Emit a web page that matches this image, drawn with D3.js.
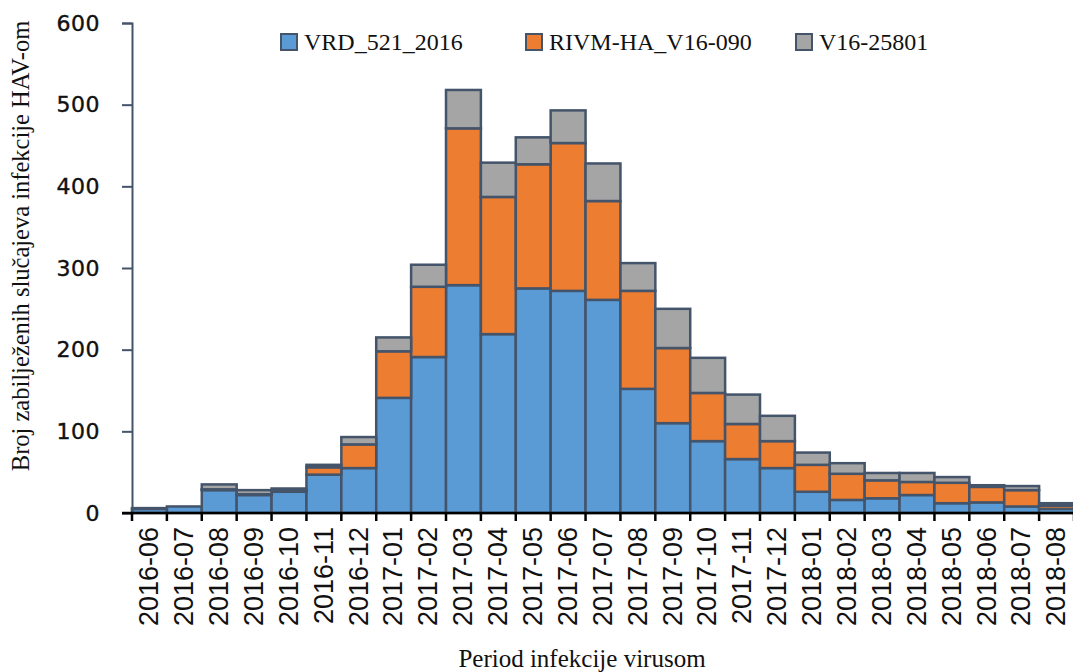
<!DOCTYPE html>
<html>
<head>
<meta charset="utf-8">
<script src="https://cdn.jsdelivr.net/npm/d3@7"></script>
<style>
  body { margin: 0; background: #fff; }
  svg { display: block; }
</style>
</head>
<body>
<svg width="1073" height="672"></svg>
<script>
// months on the x axis
const months = ["2016-06","2016-07","2016-08","2016-09","2016-10","2016-11","2016-12",
  "2017-01","2017-02","2017-03","2017-04","2017-05","2017-06","2017-07","2017-08",
  "2017-09","2017-10","2017-11","2017-12","2018-01","2018-02","2018-03","2018-04",
  "2018-05","2018-06","2018-07","2018-08"];

// cases per strain
const vrd  = [5, 8, 28, 22, 26, 47, 55, 141, 191, 279, 219, 275, 272, 261, 152, 110, 88, 66, 55, 26, 16, 18, 22, 12, 13, 8, 5];
const rivm = [0, 0, 1, 1, 1, 9, 29, 57, 86, 192, 168, 152, 181, 121, 120, 92, 59, 43, 33, 33, 32, 22, 16, 25, 19, 20, 4];
const v16  = [1, 0, 6, 5, 3, 3, 9, 17, 27, 47, 42, 33, 40, 46, 34, 48, 43, 36, 31, 15, 13, 9, 11, 7, 2, 5, 3];

const seriesNames = ["VRD_521_2016", "RIVM-HA_V16-090", "V16-25801"];
const colors = ["#5b9bd5", "#ed7d31", "#a5a5a5"];
const yTicks = [0, 100, 200, 300, 400, 500, 600];

const rows = months.map((m, i) => ({month: m, a: vrd[i], b: rivm[i], c: v16[i]}));
const stacked = d3.stack().keys(["a", "b", "c"])(rows);

const svg = d3.select("svg");
const edge = "#44546a";

const x = d3.scaleBand().domain(months).range([132, 1074]).padding(0);
const y = d3.scaleLinear().domain([0, 600]).range([513, 23]);

// bars
svg.append("g").selectAll("g")
  .data(stacked)
  .join("g")
    .attr("fill", (d, i) => colors[i])
  .selectAll("rect")
  .data(d => d)
  .join("rect")
    .attr("x", d => x(d.data.month))
    .attr("width", x.bandwidth())
    .attr("y", d => y(d[1]))
    .attr("height", d => y(d[0]) - y(d[1]))
    .attr("stroke", edge)
    .attr("stroke-width", 2.5);

// y axis
const yAxis = svg.append("g")
  .attr("transform", "translate(132,0)")
  .call(d3.axisLeft(y).tickValues(yTicks).tickSize(10).tickPadding(22));
yAxis.select(".domain").attr("stroke", edge).attr("stroke-width", 2);
yAxis.selectAll(".tick line").attr("stroke", edge).attr("stroke-width", 2);
yAxis.selectAll("text")
  .attr("font-family", "DejaVu Sans")
  .attr("font-size", 22)
  .attr("letter-spacing", 0.5)
  .attr("fill", "#111")
  .attr("stroke", "#111")
  .attr("stroke-width", 0.4);

// x axis
const xAxis = svg.append("g")
  .attr("transform", "translate(0,513)")
  .call(d3.axisBottom(x).tickSize(0).tickPadding(0));
xAxis.select(".domain").remove();
xAxis.selectAll("text")
  .attr("font-family", "Liberation Sans")
  .attr("font-size", 27)
  .attr("fill", "#111")
  .attr("text-anchor", "end")
  .attr("transform", "rotate(-90)")
  .attr("x", -14)
  .attr("y", -1)
  .attr("dy", "0.36em");

svg.append("line")
  .attr("x1", 122).attr("x2", 1073)
  .attr("y1", 513).attr("y2", 513)
  .attr("stroke", "#000").attr("stroke-width", 2.5);

const edges = months.map(m => x(m)).concat([x.range()[1]]);
svg.append("g").selectAll("line")
  .data(edges)
  .join("line")
    .attr("x1", d => d).attr("x2", d => d)
    .attr("y1", 513).attr("y2", 521)
    .attr("stroke", "#000").attr("stroke-width", 2.5);

// axis titles
svg.append("text")
  .attr("x", 582).attr("y", 667)
  .attr("text-anchor", "middle")
  .attr("font-family", "Liberation Serif")
  .attr("font-size", 25)
  .attr("fill", "#111")
  .text("Period infekcije virusom");

svg.append("text")
  .attr("transform", "translate(29,246) rotate(-90)")
  .attr("text-anchor", "middle")
  .attr("font-family", "Liberation Serif")
  .attr("font-size", 24.5)
  .attr("fill", "#111")
  .text("Broj zabilježenih slučajeva infekcije HAV-om");

// legend
const legendX = [281, 526, 796];
const legend = svg.append("g").selectAll("g")
  .data(seriesNames)
  .join("g")
    .attr("transform", (d, i) => `translate(${legendX[i]},34)`);
legend.append("rect")
  .attr("width", 16).attr("height", 16)
  .attr("fill", (d, i) => colors[i])
  .attr("stroke", edge).attr("stroke-width", 2);
legend.append("text")
  .attr("x", 23).attr("y", 16)
  .attr("font-family", "Liberation Serif")
  .attr("font-size", 24)
  .attr("fill", "#111")
  .text(d => d);
</script>
</body>
</html>
